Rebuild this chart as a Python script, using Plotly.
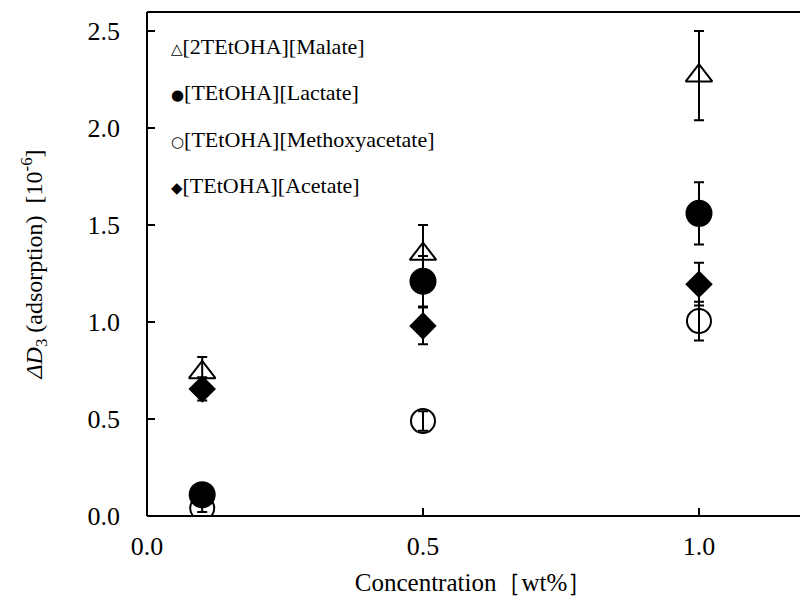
import plotly.graph_objects as go

conc = [0.1, 0.5, 1.0]
names = ["[2TEtOHA][Malate]", "[TEtOHA][Lactate]", "[TEtOHA][Methoxyacetate]", "[TEtOHA][Acetate]"]
legend_syms = ["△", "●", "○", "◆"]
malate = [0.74, 1.35, 2.27]
malate_err = [0.08, 0.15, 0.23]
lactate = [0.11, 1.21, 1.56]
lactate_err = [0.02, 0.13, 0.16]
methoxy = [0.04, 0.49, 1.005]
methoxy_err = [0.02, 0.05, 0.10]
acetate = [0.655, 0.98, 1.195]
acetate_err = [0.06, 0.095, 0.11]

series = [
    (malate, malate_err, "triangle-up-open", 23),
    (lactate, lactate_err, "circle", 25),
    (methoxy, methoxy_err, "circle-open", 24),
    (acetate, acetate_err, "diamond", 19),
]

FONT = "Liberation Serif, Times New Roman, serif"
fig = go.Figure()
for (vals, errs, sym, sz), nm in zip(series, names):
    fig.add_trace(go.Scatter(
        x=conc, y=vals, mode="markers", name=nm, showlegend=False,
        marker=dict(symbol=sym, size=sz, color="black", line=dict(color="black", width=2)),
        error_y=dict(type="data", array=errs, visible=True, color="black", thickness=2, width=5),
    ))

leg_y = [2.42, 2.185, 1.94, 1.705]
for s, nm, yy in zip(legend_syms, names, leg_y):
    fig.add_annotation(
        x=0.040, y=yy, xref="x", yref="y", xanchor="left", yanchor="middle", showarrow=False,
        text=f"<span style='font-family:DejaVu Sans;font-size:15px'>{s}</span>{nm}",
        font=dict(family=FONT, size=22, color="black"),
    )

fig.update_layout(
    width=800, height=605,
    margin=dict(l=147, r=0, t=12, b=89),
    plot_bgcolor="white", paper_bgcolor="white",
    font=dict(family=FONT, size=25, color="black"),
)
fig.update_xaxes(
    range=[0, 1.183], dtick=0.5, tick0=0, tickformat=".1f",
    showline=False, mirror=False,
    ticks="inside", ticklen=8, tickwidth=2, tickcolor="black",
    showgrid=False, zeroline=False, ticklabelstandoff=12,
    tickfont=dict(size=26),
    title=dict(text="Concentration［wt%］", font=dict(size=25), standoff=13),
)
fig.update_yaxes(
    range=[0, 2.598], dtick=0.5, tick0=0, tickformat=".1f",
    showline=False, mirror=False,
    ticks="inside", ticklen=8, tickwidth=2, tickcolor="black",
    showgrid=False, zeroline=False, ticklabelstandoff=26,
    tickfont=dict(size=26),
    title=dict(text="<i>ΔD</i><sub>3</sub> (adsorption)  [10<sup>-6</sup>]", font=dict(size=24), standoff=38),
)
# frame: bottom, left, top
for x0, y0, x1, y1 in [(0, 0, 1, 0), (0, 0, 0, 1), (0, 1, 1, 1)]:
    fig.add_shape(type="line", xref="paper", yref="paper", x0=x0, x1=x1, y0=y0, y1=y1,
                  line=dict(color="black", width=2))
fig.write_html("out.html", config={"displayModeBar": False},
               post_script="document.body.style.margin='0';document.body.style.overflow='hidden';")
